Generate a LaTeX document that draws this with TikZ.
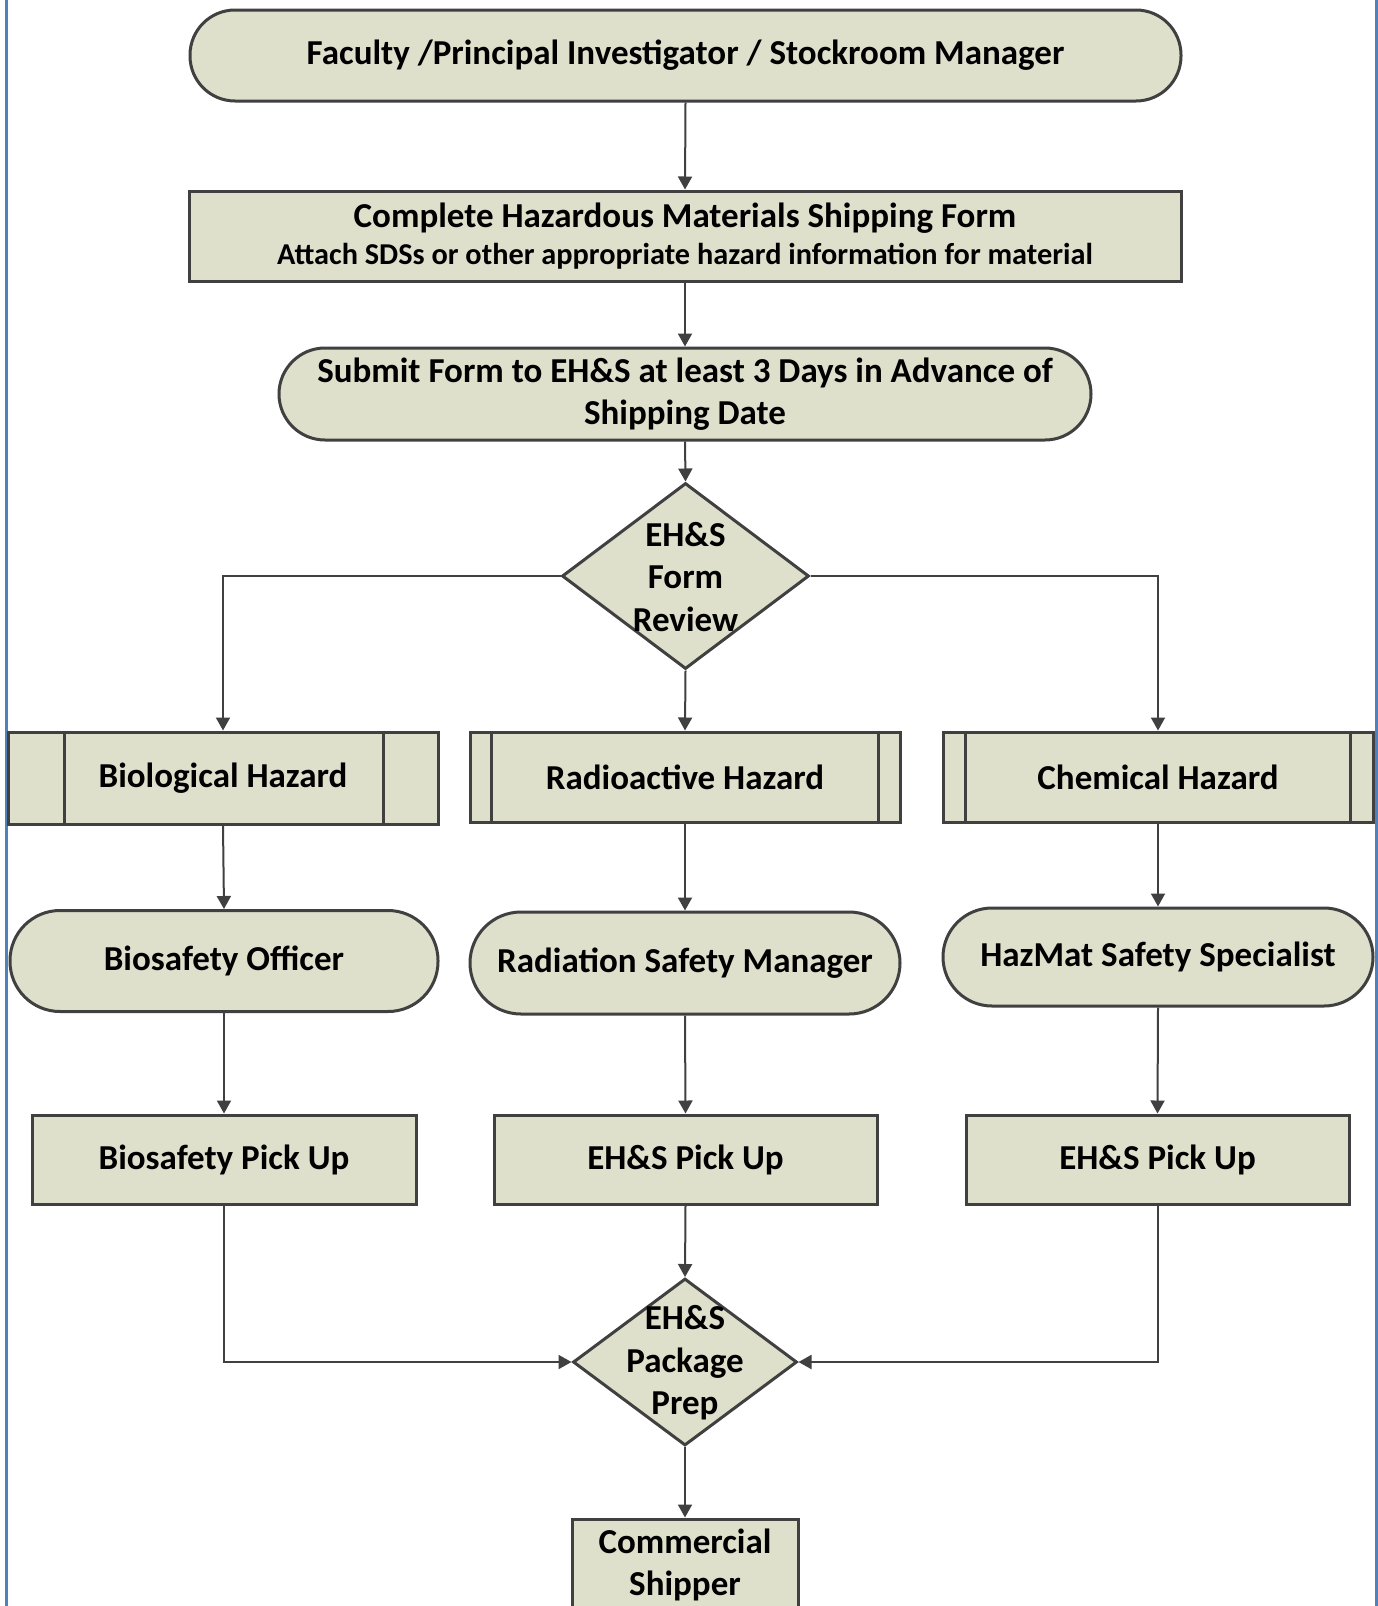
\documentclass[tikz,border=0pt]{standalone}
\usepackage{fontspec}
\setmainfont{Carlito}
\usetikzlibrary{arrows.meta,shapes.geometric}
\definecolor{boxfill}{RGB}{222,224,204}
\definecolor{boxline}{RGB}{64,64,64}
\definecolor{frameblue}{RGB}{79,129,189}
\tikzset{
  base/.style={draw=boxline, line width=3pt, fill=boxfill, inner sep=0pt, align=center,
    font=\fontsize{35}{42.5}\selectfont\bfseries},
  term/.style={base, rounded corners=#1},
  proc/.style={base},
  pred/.style={base},
  dec/.style={base, shape=diamond},
  txt/.style={inner sep=0pt, align=center, font=\fontsize{35}{42.5}\selectfont\bfseries},
  conn/.style={draw=boxline, line width=2pt, -{Triangle[length=13pt,width=14pt]}},
  line/.style={draw=boxline, line width=2pt},
}
\begin{document}
\begin{tikzpicture}[x=1pt,y=-1pt]
\useasboundingbox (0,0) rectangle (1378,1606);
\fill[white] (0,0) rectangle (1378,1606);
\draw[frameblue, line width=3pt] (6,-5) -- (6,1611);
\draw[frameblue, line width=3pt] (1376,-5) -- (1376,1611);

% nodes
\node[term=45pt, minimum width=991pt, minimum height=91pt] (fac) at (685.5,55.5)
  {Faculty /Principal Investigator / Stockroom Manager};
\node[proc, minimum width=992pt, minimum height=90pt] (form) at (685,236) {};
\node[txt] (formt1) at (685,218) {Complete Hazardous Materials Shipping Form};
\node[txt, font=\fontsize{30.3}{34}\selectfont\bfseries] (formt2) at (685,256)
  {Attach SDSs or other appropriate hazard information for material};
\node[term=46pt, minimum width=812pt, minimum height=92pt] (sub) at (685,394)
  {Submit Form to EH\&S at least 3 Days in Advance of\\Shipping Date};

\node[dec, minimum width=247pt, minimum height=186pt] (rev) at (685.5,576) {};
\node[txt] (revt) at (685.5,577) {EH\&S\\Form\\Review};

\node[pred, minimum width=430pt, minimum height=92pt] (bio) at (223,778) {Biological Hazard};
\node[pred, minimum width=430pt, minimum height=90pt] (rad) at (685,777) {Radioactive Hazard};
\node[pred, minimum width=430pt, minimum height=90pt] (chem) at (1158,777) {Chemical Hazard};
\draw[boxline, line width=3pt] ([xshift=58pt]bio.north west) -- ([xshift=58pt]bio.south west);
\draw[boxline, line width=3pt] ([xshift=-56pt]bio.north east) -- ([xshift=-56pt]bio.south east);
\draw[boxline, line width=3pt] ([xshift=23pt]rad.north west) -- ([xshift=23pt]rad.south west);
\draw[boxline, line width=3pt] ([xshift=-23pt]rad.north east) -- ([xshift=-23pt]rad.south east);
\draw[boxline, line width=3pt] ([xshift=24pt]chem.north west) -- ([xshift=24pt]chem.south west);
\draw[boxline, line width=3pt] ([xshift=-24pt]chem.north east) -- ([xshift=-24pt]chem.south east);

\node[term=50pt, minimum width=428pt, minimum height=101pt] (bso) at (224,961) {Biosafety Officer};
\node[term=51pt, minimum width=430pt, minimum height=102pt] (rsm) at (685,963) {Radiation Safety Manager};
\node[term=49pt, minimum width=430pt, minimum height=98pt] (hss) at (1158,957) {HazMat Safety Specialist};

\node[proc, minimum width=384pt, minimum height=89pt] (bpu) at (224,1159.5) {Biosafety Pick Up};
\node[proc, minimum width=383pt, minimum height=89pt] (rpu) at (685.5,1159.5) {EH\&S Pick Up};
\node[proc, minimum width=383pt, minimum height=89pt] (cpu) at (1157.5,1159.5) {EH\&S Pick Up};

\node[dec, minimum width=224pt, minimum height=167pt] (pkg) at (685,1362) {};
\node[txt] (pkgt) at (685,1363) {EH\&S\\Package\\Prep};

\node[proc, minimum width=226pt, minimum height=120pt] (ship) at (685,1579) {};
\node[txt] (shipt) at (685,1565) {Commercial\\Shipper};

% connectors
\draw[conn] (fac.south) -- (form.north);
\draw[conn] (form.south) -- (sub.north);
\draw[conn] (sub.south) -- (rev.north);
\draw[conn] (rev.south) -- (rad.north);
\draw[conn] (rev.west) -| (bio.north);
\draw[conn] (rev.east) -| (chem.north);
\draw[conn] (bio.south) -- (bso.north);
\draw[conn] (rad.south) -- (rsm.north);
\draw[conn] (chem.south) -- (hss.north);
\draw[conn] (bso.south) -- (bpu.north);
\draw[conn] (rsm.south) -- (rpu.north);
\draw[conn] (hss.south) -- (cpu.north);
\draw[conn] (rpu.south) -- (pkg.north);
\draw[conn] (bpu.south) |- (pkg.west);
\draw[conn] (cpu.south) |- (pkg.east);
\draw[conn] (pkg.south) -- (ship.north);
\end{tikzpicture}
\end{document}
